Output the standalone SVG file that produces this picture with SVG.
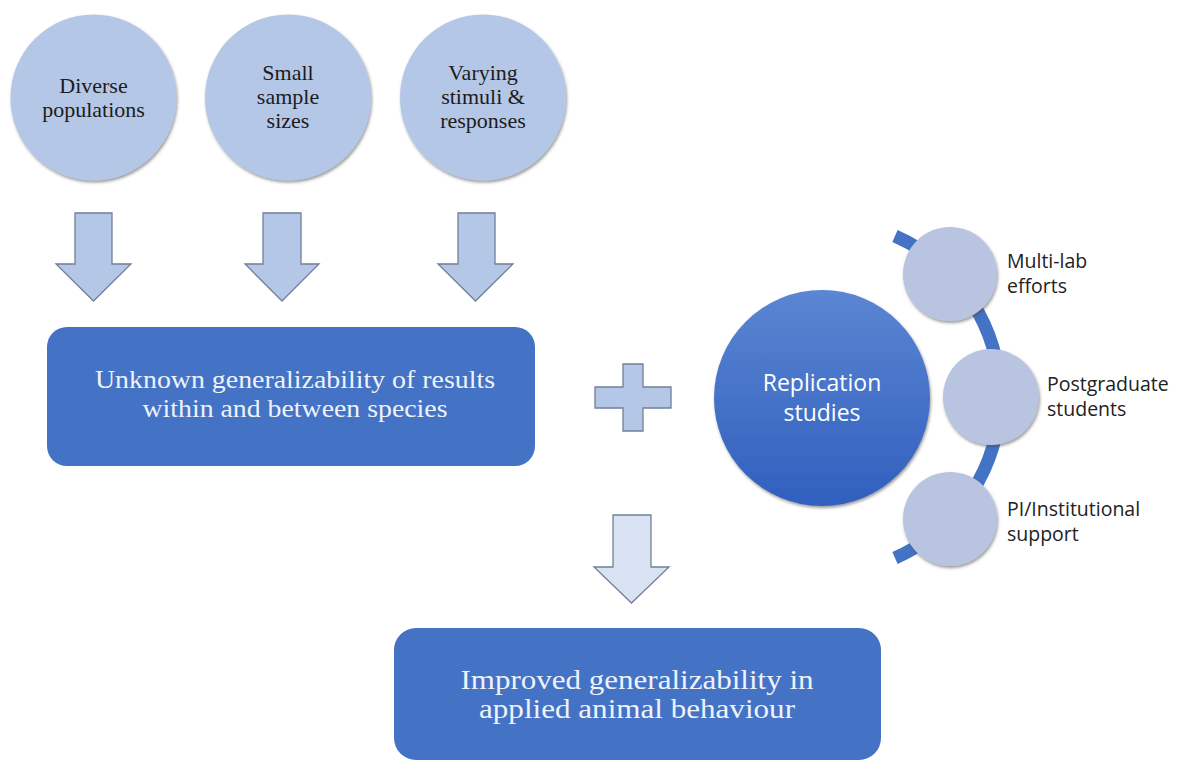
<svg xmlns="http://www.w3.org/2000/svg" width="1177" height="762" viewBox="0 0 1177 762">
<defs>
<filter id="sh" x="-20%" y="-20%" width="140%" height="140%">
<feDropShadow dx="1" dy="2" stdDeviation="1.6" flood-color="#4a4a4a" flood-opacity="0.55"/>
</filter>
<linearGradient id="rg" x1="0" y1="0" x2="0" y2="1">
<stop offset="0" stop-color="#5b86d2"/>
<stop offset="1" stop-color="#305fbe"/>
</linearGradient>
<style>
.tc{fill:#b4c7e7;filter:url(#sh)}
.sc{fill:#b9c4e1;filter:url(#sh)}
.arr{fill:#b4c7e7;stroke:#717f98;stroke-width:1.3}
.arr2{fill:#d9e2f3;stroke:#717f98;stroke-width:1.3}
.box{fill:#4472c4}
.ser{font-family:"Liberation Serif","Times New Roman",serif}
.ct{font-size:22px;fill:#1c1c1c;text-anchor:middle}
.bt{fill:#eef2fa;text-anchor:middle}
.san{font-family:"Open Sans","Liberation Sans",sans-serif}
.rt{font-size:19.5px;fill:#222}
</style>
</defs>
<rect width="1177" height="762" fill="#ffffff"/>

<g id="connectors">
<path class="arr" d="M75,213 H112 V264 H131 L93.5,301 L56,264 H75 Z"/>
<path class="arr" d="M263,213 H301 V264 H319 L282,301 L245,264 H263 Z"/>
<path class="arr" d="M458,213 H495 V264 H513 L475.5,301 L438,264 H458 Z"/>
<path class="arr" d="M623,364 H643 V387 H671 V408 H643 V431 H623 V408 H595 V387 H623 Z"/>
<path class="arr2" d="M613,515 H651 V567 H669 L631.5,603 L594,567 H613 Z"/>
<path d="M895,236 A176,176 0 0 1 895,558" fill="none" stroke="#4472c4" stroke-width="13"/>
</g>

<g id="n-diverse">
<circle class="tc" cx="93.5" cy="97.5" r="83"/>
<text class="ser ct"><tspan x="93.5" y="93">Diverse</tspan><tspan x="93.5" y="117">populations</tspan></text>
</g>
<g id="n-small">
<circle class="tc" cx="288" cy="97.5" r="83"/>
<text class="ser ct"><tspan x="288" y="80">Small</tspan><tspan x="288" y="104">sample</tspan><tspan x="288" y="128">sizes</tspan></text>
</g>
<g id="n-varying">
<circle class="tc" cx="483" cy="97.5" r="83"/>
<text class="ser ct"><tspan x="483" y="80">Varying</tspan><tspan x="483" y="104">stimuli &amp;</tspan><tspan x="483" y="128">responses</tspan></text>
</g>

<g id="n-unknown">
<rect class="box" x="47" y="327" width="488" height="139" rx="20"/>
<text class="ser bt" font-size="25"><tspan x="295" y="388" textLength="400" lengthAdjust="spacingAndGlyphs">Unknown  generalizability  of results</tspan><tspan x="295" y="417" textLength="305" lengthAdjust="spacingAndGlyphs">within and between species</tspan></text>
</g>

<g id="n-replication">
<circle cx="822" cy="398" r="108" fill="url(#rg)" filter="url(#sh)"/>
<text class="san" font-size="23" fill="#ffffff" text-anchor="middle"><tspan x="822" y="391">Replication</tspan><tspan x="822" y="421">studies</tspan></text>
</g>

<g id="n-multilab">
<circle class="sc" cx="950" cy="274" r="47"/>
<text class="san rt"><tspan x="1007" y="268">Multi-lab</tspan><tspan x="1007" y="293">efforts</tspan></text>
</g>
<g id="n-postgrad">
<circle class="sc" cx="991" cy="397" r="48"/>
<text class="san rt"><tspan x="1047" y="391">Postgraduate</tspan><tspan x="1047" y="416">students</tspan></text>
</g>
<g id="n-pi">
<circle class="sc" cx="950" cy="519" r="47"/>
<text class="san rt"><tspan x="1007" y="516">PI/Institutional</tspan><tspan x="1007" y="541">support</tspan></text>
</g>

<g id="n-improved">
<rect class="box" x="394" y="628" width="487" height="132" rx="22"/>
<text class="ser bt" font-size="27"><tspan x="637" y="689" textLength="353" lengthAdjust="spacingAndGlyphs">Improved generalizability in</tspan><tspan x="637" y="718" textLength="316" lengthAdjust="spacingAndGlyphs">applied animal behaviour</tspan></text>
</g>
</svg>
